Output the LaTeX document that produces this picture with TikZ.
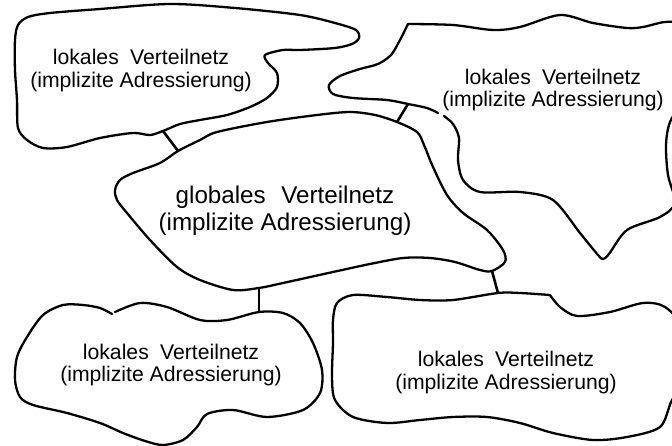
\documentclass[tikz,border=0pt]{standalone}
\usepackage{fontspec}
\setmainfont{Liberation Sans}
\begin{document}
\begin{tikzpicture}[x=1pt,y=-1pt,
  cloud/.style={line width=2.3pt, line join=round, line cap=round},
  link/.style={line width=2.6pt},
  lanlabel/.style={align=center, inner sep=0pt, font=\fontsize{21.2}{22.3}\selectfont},
  wanlabel/.style={align=center, inner sep=0pt, font=\fontsize{24.2}{26.6}\selectfont}]

\useasboundingbox (0,0) rectangle (672,446);

% attachment points of the links on the cloud outlines
\coordinate (tlG) at (163,131);
\coordinate (gTL) at (178,151);
\coordinate (trG) at (408,104);
\coordinate (gTR) at (397,122);
\coordinate (gBL) at (259,288);
\coordinate (blG) at (259,312);
\coordinate (gBR) at (492,271);
\coordinate (brG) at (498,293);

% top-left local network
\draw[cloud] plot[smooth cycle] coordinates {(15,40) (18,25) (28,17) (50,13) (100,9) (170,4)
  (235,8) (300,15) (335,23) (356,30) (359,38) (352,44) (335,48) (300,50) (283,50) (265,55)
  (268,63) (277,73) (277,87) (267,98) (250,107) (227,115) (200,120) (180,124) (tlG)
  (150,135) (133,133) (100,138) (67,147) (43,148) (27,140) (18,128) (17,100) (15,70)};

% global network
\draw[cloud] plot[smooth cycle] coordinates {(gTL) (200,140) (217,132) (267,122) (317,115)
  (350,112) (375,115) (gTR) (417,132) (424,145) (433,167) (447,195) (463,213) (487,230)
  (503,250) (505,262) (gBR) (480,270) (455,262) (430,258) (403,258) (370,264) (333,272)
  (283,283) (gBL) (233,290) (200,280) (177,267) (150,240) (127,213) (117,200) (115,190)
  (120,180) (133,173) (160,163)};

% top-right local network
\draw[cloud] plot[smooth] coordinates {(444,116) (453,124) (459,138) (458,160) (463,180)
  (480,192) (520,192) (553,200) (580,233) (598,255) (603,259) (609,254) (627,230)
  (660,217) (675,203) (668,175) (666,145) (670,122) (685,95) (690,55) (680,25) (665,22)
  (643,27) (627,28) (593,23) (560,15) (520,27) (493,30) (453,25) (408,24)}
  -- plot[smooth] coordinates {(408,24) (400,40) (391,55) (378,64) (360,69) (340,76)
  (329,85) (333,94) (353,98) (387,100) (trG) (427,108) (438,113)};

% bottom-left local network
\draw[cloud] plot[smooth] coordinates {(115,312) (140,303) (167,307) (200,320) (227,320)
  (blG) (283,313) (300,323) (313,343) (322,370) (320,393) (303,410) (267,417) (233,410)
  (207,414) (197,427) (183,440) (163,445) (145,441) (123,433) (100,423) (67,413) (33,405)
  (20,397) (15,380) (17,357) (27,337) (43,315) (63,305) (83,305) (100,308) (112,314)};

% bottom-right local network
\draw[cloud] plot[smooth] coordinates {(550,295) (560,307) (577,316) (610,312) (643,303)
  (665,307) (685,330) (690,370) (672,400) (660,427) (627,437) (593,440) (553,433)
  (520,423) (487,417) (453,417) (420,420) (387,423) (353,417) (335,400) (332,377)
  (333,343) (333,320) (337,303) (353,295) (387,297) (420,300) (453,300) (brG) (520,293)
  (550,295)};

% links between the networks
\draw[link] (tlG) -- (gTL);
\draw[link] (trG) -- (gTR);
\draw[link] (gBL) -- (blG);
\draw[link] (gBR) -- (brG);

% labels
\node[lanlabel] (tl) at (141,70.5) {lokales\hspace{0.53em}Verteilnetz\\(implizite Adressierung)};
\node[lanlabel] (tr) at (553,90) {lokales\hspace{0.53em}Verteilnetz\\(implizite Adressierung)};
\node[wanlabel] (g) at (285,210.7) {globales\hspace{0.64em}Verteilnetz\\(implizite Adressierung)};
\node[lanlabel] (bl) at (171,365) {lokales\hspace{0.53em}Verteilnetz\\(implizite Adressierung)};
\node[lanlabel] (br) at (506,372.5) {lokales\hspace{0.53em}Verteilnetz\\(implizite Adressierung)};
\end{tikzpicture}
\end{document}
